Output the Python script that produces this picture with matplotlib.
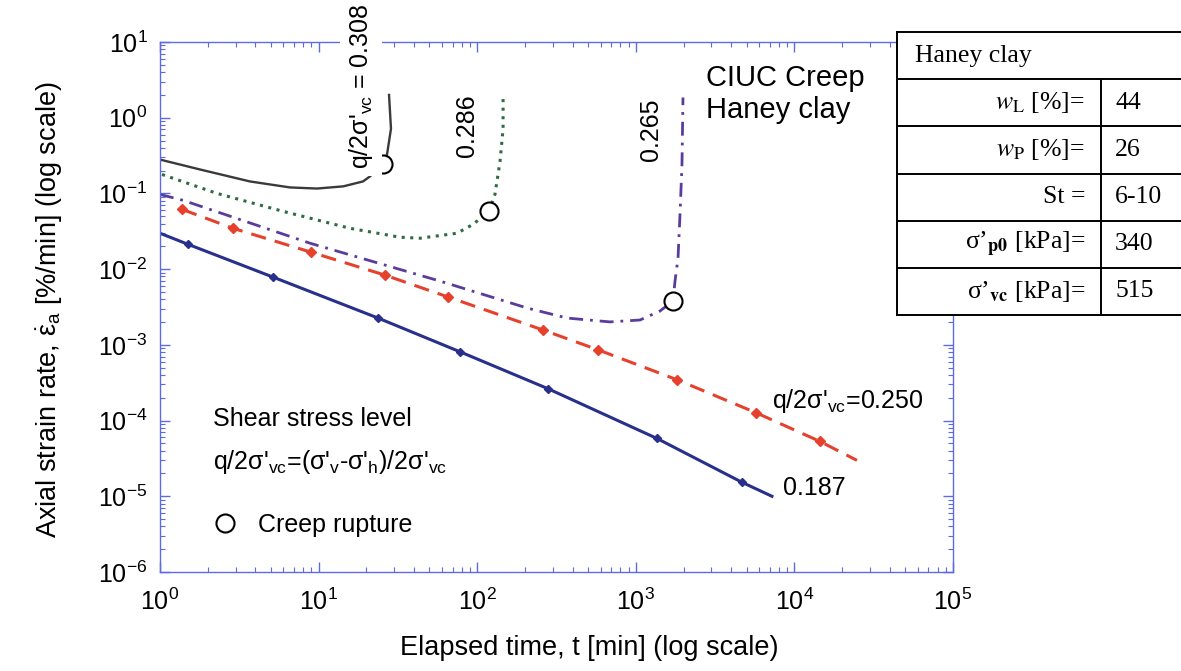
import numpy as np
import matplotlib
matplotlib.use('Agg')
import matplotlib.pyplot as plt
from matplotlib.lines import Line2D

plt.rcParams['font.family'] = ['Liberation Sans', 'DejaVu Sans']
plt.rcParams['mathtext.fontset'] = 'custom'
plt.rcParams['mathtext.rm'] = 'Liberation Sans'
plt.rcParams['mathtext.it'] = 'Liberation Sans:italic'
plt.rcParams['mathtext.bf'] = 'Liberation Sans:bold'
plt.rcParams['axes.unicode_minus'] = False

# --- creep curves: elapsed time [min] vs axial strain rate [%/min] ---
t_308 = [1.0, 1.79, 3.69, 6.6, 9.77, 14.3, 19.05, 21.1, 25.5, 27.0, 28.6, 27.8]
r_308 = [0.28, 0.207, 0.144, 0.12, 0.116, 0.124, 0.144, 0.168, 0.248, 0.326, 0.716, 2.0]

t_286 = [1.03, 2.29, 5.97, 15.8, 32.6, 43.6, 74.6, 94.1, 118.6, 129.4, 139.3, 145.6, 145.6]
r_286 = [0.178, 0.100, 0.058, 0.0346, 0.0264, 0.0256, 0.0298, 0.039, 0.058, 0.097, 0.264, 0.716, 2.07]

t_265 = [1.0, 1.40, 8.83, 58.3, 206, 368, 687, 1063, 1421, 1717, 1767, 1846, 1900, 1955, 1984]
r_265 = [0.097, 0.081, 0.022, 0.00695, 0.00307, 0.00226, 0.00201, 0.00213, 0.0028, 0.0038,
         0.00695, 0.014, 0.053, 0.241, 1.85]

t_250 = [1.38, 2.89, 8.96, 26.2, 65.5, 260, 578, 1820, 5726, 14500, 24800]
r_250 = [0.0615, 0.0346, 0.01675, 0.00834, 0.00429, 0.00157, 8.6e-4, 3.46e-4, 1.27e-4, 5.3e-5, 2.98e-5]

t_187 = [1.0, 1.5, 5.16, 23.7, 77.9, 279, 1361, 4674, 7220]
r_187 = [0.0298, 0.0213, 0.00785, 0.00226, 8.1e-4, 2.64e-4, 5.8e-5, 1.53e-5, 1.0e-5]

# creep rupture points (0.308, 0.286, 0.265)
t_rup = [25.5, 118.6, 1717]
r_rup = [0.248, 0.058, 0.0038]

# soil properties table
tbl_title = "Haney clay"
tbl_names = [r"$\mathit{w}_{\mathrm{L}}$ [%]=", r"$\mathit{w}_{\mathrm{P}}$ [%]=", "St =",
             r"σ’$_{\mathbf{p0}}$ [kPa]=", r"σ’$_{\mathbf{vc}}$ [kPa]="]
tbl_values = ["44", "26", "6-10", "340", "515"]

blue_axis = '#5c6ce0'

fig = plt.figure(figsize=(11.81, 6.71), dpi=100)
ax = fig.add_axes([160/1181, 1 - 572/671, 793/1181, 530/671])
ax.set_xscale('log')
ax.set_yscale('log')
ax.set_xlim(1, 1e5)
ax.set_ylim(1e-6, 10)

ax.plot(t_308, r_308, color='#3a3a3a', lw=1.7)
ax.plot(t_286, r_286, color='#2e6b3f', lw=2.2, ls=(0, (1.0, 1.8)))
ax.plot(t_265, r_265, color='#5a3c9c', lw=2.0, ls=(0, (5, 2.5, 1, 2.5)))
ax.plot(t_250, r_250, color='#e5412d', lw=2.2, ls=(0, (5, 3)),
        marker='D', ms=5, markevery=slice(0, -1))
ax.plot(t_187, r_187, color='#29308c', lw=2.2,
        marker='D', ms=4.5, markevery=slice(1, -1))
ax.plot(t_rup, r_rup, 'o', ms=13, mfc='white', mec='black', mew=1.5, zorder=5)

# axes styling
for s in ax.spines.values():
    s.set_color(blue_axis)
    s.set_linewidth(1.0)
ax.tick_params(which='both', direction='in', top=True, right=True,
               color=blue_axis, labelcolor='black', labelsize=18)
ax.tick_params(which='major', length=7, width=1.0)
ax.tick_params(which='minor', length=3.5, width=0.8)
ax.tick_params(axis='x', pad=12)
ax.tick_params(axis='y', pad=9)

fig.text(589/1181, 1 - 648/671, "Elapsed time, t [min] (log scale)",
         fontsize=19.5, ha='center', va='center')
fig.text(50/1181, 1 - 310/671,
         r"Axial strain rate, $\dot{\mathrm{\varepsilon}}_{\mathrm{a}}$ [%/min] (log scale)",
         fontsize=19.5, ha='center', va='center', rotation=90)

# annotations
ax.text(0.6885, 0.958, "CIUC Creep\nHaney clay", transform=ax.transAxes,
        fontsize=21, ha='left', va='top', linespacing=1.15)
ax.text(18.5, 2.64, r"q/2σ'$_{\mathrm{vc}}$ = 0.308", rotation=90, fontsize=18,
        ha='center', va='center', clip_on=False, zorder=6,
        bbox=dict(facecolor='white', edgecolor='none', pad=5))
ax.text(86.2, 0.785, "0.286", rotation=90, fontsize=18, ha='center', va='center')
ax.text(1247, 0.695, "0.265", rotation=90, fontsize=18, ha='center', va='center')
ax.text(7225, 1.48e-4, r"q/2σ'$_{\mathrm{vc}}$=0.250", fontsize=18,
        ha='left', va='baseline')
ax.text(8475, 1.27e-5, "0.187", fontsize=18, ha='left', va='center')

ax.text(0.0668, 0.289, "Shear stress level", transform=ax.transAxes,
        fontsize=18, ha='left', va='center')
ax.text(0.0668, 0.2075,
        r"q/2σ'$_{\mathrm{vc}}$=(σ'$_{\mathrm{v}}$-σ'$_{\mathrm{h}}$)/2σ'$_{\mathrm{vc}}$",
        transform=ax.transAxes, fontsize=18, ha='left', va='center')
rup_handle = Line2D([], [], marker='o', ls='none', ms=13, mfc='white', mec='black', mew=1.5)
ax.legend(handles=[rup_handle], labels=["Creep rupture"], loc='center left',
          bbox_to_anchor=(0.0668, 0.0887), frameon=False, fontsize=18,
          handlelength=1.0, handletextpad=0.8, borderpad=0, borderaxespad=0)

# properties table
ax_t = fig.add_axes([897/1181, 1 - 315/671, 300/1181, 283/671], zorder=10)
ax_t.set_xlim(0, 1)
ax_t.set_ylim(6, 0)
ax_t.set_xticks([])
ax_t.set_yticks([])
ax_t.set_facecolor('white')
for s in ax_t.spines.values():
    s.set_color('black')
    s.set_linewidth(1.4)
for i in range(1, 6):
    ax_t.axhline(i, color='black', lw=1.4)
ax_t.vlines(0.68, 1, 6, color='black', lw=1.4)

serif = ['Liberation Serif', 'DejaVu Serif']
ax_t.text(0.06, 0.5, tbl_title, family=serif, fontsize=18.5, ha='left', va='center')
for i, (name, val) in enumerate(zip(tbl_names, tbl_values)):
    ax_t.text(0.627, i + 1.5, name, family=serif, math_fontfamily='stix',
              fontsize=18.5, ha='right', va='center')
    ax_t.text(0.727, i + 1.5, val, family=serif, fontsize=18.5, ha='left', va='center')

fig.savefig('out.png', dpi=100)
